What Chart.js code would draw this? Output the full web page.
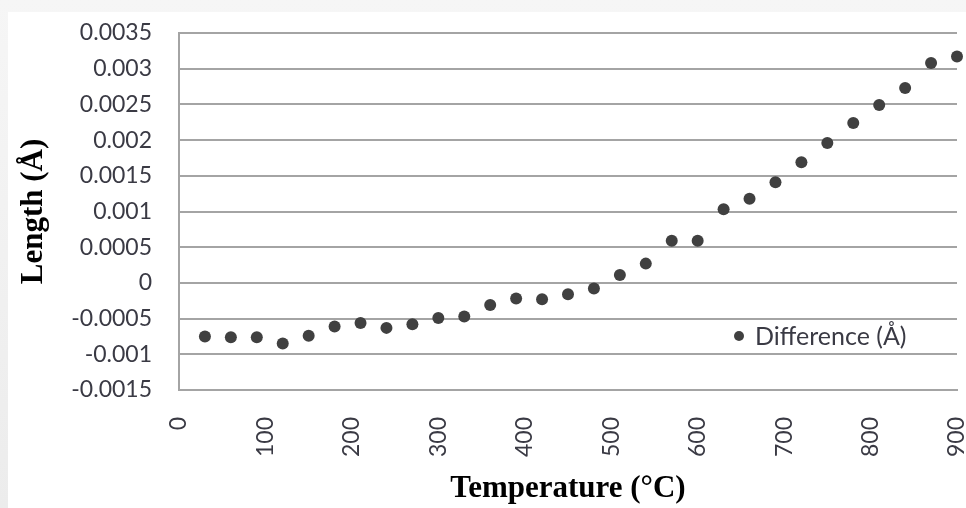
<!DOCTYPE html>
<html>
<head>
<meta charset="utf-8">
<script src="https://cdn.jsdelivr.net/npm/chart.js@4.4.1/dist/chart.umd.min.js"></script>
<style>
  html, body { margin: 0; padding: 0; }
  body { width: 966px; height: 508px; background: linear-gradient(#f6f6f6, #ececec); position: relative; overflow: hidden; }
  #box { position: absolute; left: 8px; top: 12px; width: 958px; height: 496px; background: #fff; }
  canvas { display: block; }
</style>
</head>
<body>
<div id="box"><canvas id="c" width="958" height="496"></canvas></div>
<script>
// Temperature (°C)
const temperatures = [30, 60, 90, 120, 150, 180, 210, 240, 270, 300,
                      330, 360, 390, 420, 450, 480, 510, 540, 570, 600,
                      630, 660, 690, 720, 750, 780, 810, 840, 870, 900];
// Difference (Å)
const differences = [-0.00075, -0.00076, -0.00076, -0.00085, -0.00074, -0.00061, -0.00056, -0.00063, -0.00058, -0.00049,
                     -0.00047, -0.00031, -0.00022, -0.00023, -0.00016, -0.00008, 0.00011, 0.00027, 0.00059, 0.00059,
                     0.00103, 0.00118, 0.00141, 0.00169, 0.00196, 0.00224, 0.00249, 0.00273, 0.00308, 0.00317];
const seriesLabel = 'Difference (Å)';
const xTickValues = [0, 100, 200, 300, 400, 500, 600, 700, 800, 900];
const xTickLabels = ['0', '100', '200', '300', '400', '500', '600', '700', '800', '900'];
const yTickValues = [-0.0015, -0.001, -0.0005, 0, 0.0005, 0.001, 0.0015, 0.002, 0.0025, 0.003, 0.0035];
const yTickLabels = ['-0.0015', '-0.001', '-0.0005', '0', '0.0005', '0.001', '0.0015', '0.002', '0.0025', '0.003', '0.0035'];
const xTitle = 'Temperature (°C)';
const yTitle = 'Length (Å)';

const markerColor = '#404040';
const gridColor = '#a4a4a4';
const tickColor = '#3a3a44';
const tickFont = { family: 'Lato', size: 23 };
const legendFont = { family: 'Lato', size: 25 };
const titleFont = { family: 'Liberation Serif', weight: 'bold', size: 31 };

const insideLegend = {
  id: 'insideLegend',
  afterDraw(chart) {
    const { ctx, chartArea } = chart;
    const ds = chart.data.datasets[0];
    const x = chartArea.left + 0.7198 * (chartArea.right - chartArea.left);
    const y = chartArea.top + 0.8487 * (chartArea.bottom - chartArea.top);
    ctx.save();
    ctx.fillStyle = ds.backgroundColor;
    ctx.beginPath();
    ctx.arc(x, y, 5, 0, Math.PI * 2);
    ctx.fill();
    ctx.fillStyle = tickColor;
    ctx.font = legendFont.size + 'px ' + legendFont.family;
    ctx.textBaseline = 'middle';
    ctx.textAlign = 'left';
    ctx.fillText(ds.label, x + 16, y + 1);
    ctx.restore();
  }
};

new Chart(document.getElementById('c'), {
  type: 'scatter',
  data: {
    datasets: [{
      label: seriesLabel,
      data: temperatures.map((t, i) => ({ x: t, y: differences[i] })),
      backgroundColor: markerColor,
      borderColor: markerColor,
      pointRadius: 6,
      pointHoverRadius: 6,
      borderWidth: 0,
      clip: false
    }]
  },
  options: {
    responsive: false,
    animation: false,
    devicePixelRatio: 1,
    layout: { padding: { top: 21, right: 9, left: 0, bottom: 0 } },
    plugins: { legend: { display: false }, tooltip: { enabled: false } },
    scales: {
      x: {
        type: 'linear',
        min: 0, max: 900,
        afterBuildTicks: s => { s.ticks = xTickValues.map(v => ({ value: v })); },
        afterFit: s => { s.height = 118; s.paddingLeft = 0; s.paddingRight = 0; },
        grid: { display: false, drawTicks: false },
        border: { display: true, color: gridColor, width: 2 },
        ticks: {
          minRotation: 90, maxRotation: 90, padding: 27,
          color: tickColor, font: tickFont,
          callback: (v, i) => xTickLabels[i]
        },
        title: {
          display: true, text: xTitle, color: '#000',
          font: titleFont,
          padding: { top: 0, bottom: 0 }
        }
      },
      y: {
        type: 'linear',
        min: -0.0015, max: 0.0035,
        afterBuildTicks: s => { s.ticks = yTickValues.map(v => ({ value: v })); },
        afterFit: s => { s.width = 171; s.paddingTop = 0; s.paddingBottom = 0; },
        grid: { color: gridColor, lineWidth: 2, drawTicks: false },
        border: { display: true, color: gridColor, width: 2 },
        ticks: {
          padding: 27, color: tickColor, font: tickFont,
          callback: (v, i) => yTickLabels[i]
        },
        title: {
          display: true, text: yTitle, color: '#000',
          font: titleFont,
          padding: { top: 7, bottom: 0 }
        }
      }
    }
  },
  plugins: [insideLegend]
});
</script>
</body>
</html>
